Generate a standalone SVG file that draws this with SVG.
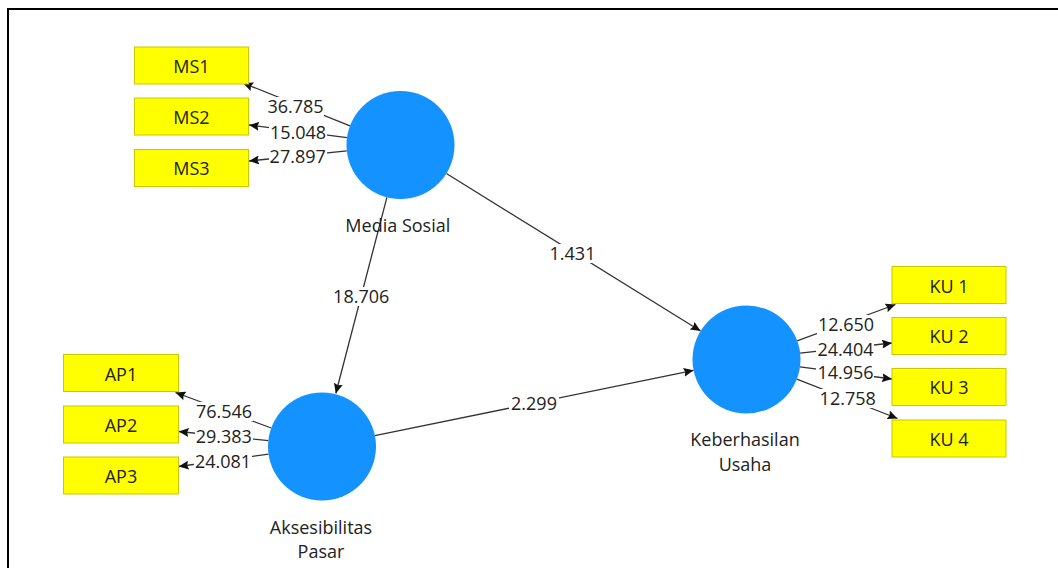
<svg xmlns="http://www.w3.org/2000/svg" width="1058" height="568" viewBox="0 0 1058 568">
<defs>
<marker id="arr" viewBox="0 0 10 9" refX="10" refY="4.5" markerWidth="10" markerHeight="9" markerUnits="userSpaceOnUse" orient="auto">
<path d="M0,0 L10,4.5 L0,9 L1.5,4.5 z" fill="#111"/>
</marker>
<style>
text{font-family:"Open Sans","Noto Sans","Liberation Sans",sans-serif;font-size:18px;fill:#222;text-anchor:middle}
.ln{stroke:#333;stroke-width:1.3;fill:none;marker-end:url(#arr)}
.bg{fill:#fff}
.lv{fill:#1492ff}
.ind{fill:#ffff00;stroke:#c8c800;stroke-width:1}
</style>
</defs>
<rect width="1058" height="568" fill="#fff"/>
<path d="M8,570 V9 H1060" fill="none" stroke="#000" stroke-width="2"/>
<g id="connectors">
<line class="ln" x1="350" y1="125.8" x2="243" y2="83"/>
<line class="ln" x1="347" y1="137.7" x2="249" y2="125"/>
<line class="ln" x1="346.8" y1="150.9" x2="249" y2="161"/>
<line class="ln" x1="386.9" y1="197.3" x2="335.8" y2="393.5"/>
<line class="ln" x1="446.4" y1="173.5" x2="700.6" y2="331"/>
<line class="ln" x1="374.9" y1="435.7" x2="693.6" y2="370.3"/>
<line class="ln" x1="271.3" y1="428" x2="175.5" y2="392.5"/>
<line class="ln" x1="268.3" y1="440.6" x2="178.7" y2="431.5"/>
<line class="ln" x1="268.6" y1="454.2" x2="178.7" y2="466.5"/>
<line class="ln" x1="797.1" y1="340.8" x2="895.5" y2="304.5"/>
<line class="ln" x1="800.1" y1="353.2" x2="892" y2="343"/>
<line class="ln" x1="800" y1="366.8" x2="892" y2="379"/>
<line class="ln" x1="796.8" y1="379.1" x2="897.5" y2="418.5"/>
<g id="lbl-ms1"><rect class="bg" x="266" y="97" width="58" height="19"/><text x="295.5" y="112.5">36.785</text></g>
<g id="lbl-ms2"><rect class="bg" x="269" y="123" width="58" height="19"/><text x="298" y="139">15.048</text></g>
<g id="lbl-ms3"><rect class="bg" x="269" y="147" width="58" height="19"/><text x="297.7" y="162.5">27.897</text></g>
<g id="lbl-ms-ap"><rect class="bg" x="332" y="287" width="58" height="19"/><text x="361.2" y="302.7">18.706</text></g>
<g id="lbl-ms-ku"><rect class="bg" x="548" y="244" width="49" height="19"/><text x="572.5" y="260">1.431</text></g>
<g id="lbl-ap-ku"><rect class="bg" x="509" y="394" width="50" height="19"/><text x="534" y="410">2.299</text></g>
<g id="lbl-ap1"><rect class="bg" x="195" y="402" width="58" height="19"/><text x="224" y="418.3">76.546</text></g>
<g id="lbl-ap2"><rect class="bg" x="195" y="427" width="58" height="19"/><text x="223.8" y="443.3">29.383</text></g>
<g id="lbl-ap3"><rect class="bg" x="194" y="451" width="58" height="19"/><text x="223" y="467.7">24.081</text></g>
<g id="lbl-ku1"><rect class="bg" x="817" y="315" width="58" height="19"/><text x="846" y="331">12.650</text></g>
<g id="lbl-ku2"><rect class="bg" x="816" y="340" width="58" height="19"/><text x="845.5" y="356">24.404</text></g>
<g id="lbl-ku3"><rect class="bg" x="816" y="363" width="58" height="19"/><text x="845.5" y="379.3">14.956</text></g>
<g id="lbl-ku4"><rect class="bg" x="819" y="389" width="58" height="19"/><text x="847.7" y="405">12.758</text></g>
</g>
<g id="media-sosial">
<circle class="lv" cx="400.5" cy="145" r="54"/>
<text x="397.8" y="232">Media Sosial</text>
</g>
<g id="aksesibilitas-pasar">
<circle class="lv" cx="322" cy="446.5" r="54"/>
<text x="321" y="534.3">Aksesibilitas</text>
<text x="321" y="558.3">Pasar</text>
</g>
<g id="keberhasilan-usaha">
<circle class="lv" cx="746.5" cy="359.5" r="54"/>
<text x="745" y="445.7">Keberhasilan</text>
<text x="745" y="471">Usaha</text>
</g>
<g id="ms1"><rect class="ind" x="134.5" y="47" width="114" height="37"/><text x="191.5" y="73.3">MS1</text></g>
<g id="ms2"><rect class="ind" x="134.5" y="98" width="114" height="37"/><text x="191.5" y="124.3">MS2</text></g>
<g id="ms3"><rect class="ind" x="134.5" y="149.5" width="114" height="37"/><text x="191.5" y="175">MS3</text></g>
<g id="ap1"><rect class="ind" x="63.5" y="354.5" width="115" height="37"/><text x="121" y="380.7">AP1</text></g>
<g id="ap2"><rect class="ind" x="63.5" y="406" width="115" height="37"/><text x="121" y="432.3">AP2</text></g>
<g id="ap3"><rect class="ind" x="63.5" y="457" width="115" height="37"/><text x="121" y="483.3">AP3</text></g>
<g id="ku1"><rect class="ind" x="892" y="266.5" width="114" height="37"/><text x="949" y="292.7">KU 1</text></g>
<g id="ku2"><rect class="ind" x="892" y="317.5" width="114" height="37"/><text x="949" y="343.3">KU 2</text></g>
<g id="ku3"><rect class="ind" x="892" y="368.5" width="114" height="37"/><text x="949" y="394.3">KU 3</text></g>
<g id="ku4"><rect class="ind" x="892" y="420" width="114" height="37"/><text x="949" y="445.7">KU 4</text></g>
</svg>
